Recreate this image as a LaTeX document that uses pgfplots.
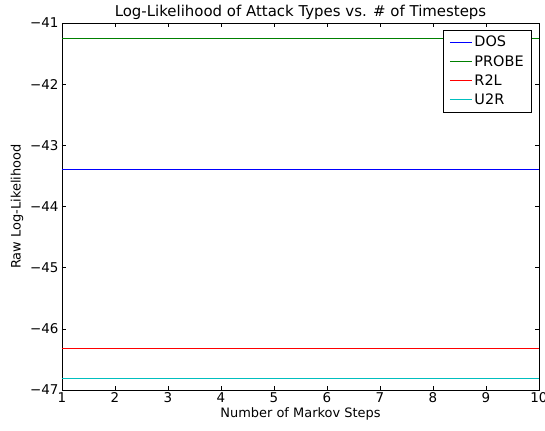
\documentclass[border=0pt]{standalone}
\usepackage{fontspec}
\setmainfont{DejaVu Sans}
\usepackage{pgfplots}
\pgfplotsset{compat=1.18}
\definecolor{dosblue}{RGB}{0,0,255}
\definecolor{probegreen}{RGB}{0,128,0}
\definecolor{rtwolred}{RGB}{255,0,0}
\definecolor{utworcyan}{RGB}{0,191,191}
\begin{document}
\begin{tikzpicture}
\path[use as bounding box] (-62bp,-41bp) rectangle (483bp,390bp);
\begin{axis}[
  scale only axis,
  width=477bp, height=367bp,
  xmin=1, xmax=10, ymin=-47, ymax=-41,
  xtick={1,...,10},
  ytick={-47,-46,-45,-44,-43,-42,-41},
  yticklabels={−47,−46,−45,−44,−43,−42,−41},
  tick align=inside,
  major tick length=4bp,
  axis line style={black, line width=0.9bp},
  every tick/.style={black, line width=0.6bp},
  tick label style={font=\fontsize{13.5}{16}\selectfont},
  xticklabel style={yshift=1bp},
  /pgf/number format/assume math mode=true,
  title={Log-Likelihood of Attack Types vs. \# of Timesteps},
  title style={font=\fontsize{15}{17}\selectfont, yshift=-6bp},
  xlabel={Number of Markov Steps},
  ylabel={Raw Log-Likelihood},
  label style={font=\fontsize{13}{15}\selectfont},
  xlabel style={yshift=2bp},
  legend style={at={(axis description cs:0.985,0.981)}, anchor=north east,
    font=\fontsize{14.5}{17}\selectfont,
    inner xsep=6bp, inner ysep=4bp, row sep=3bp},
  legend cell align=left,
  legend image code/.code={\draw[#1] (0bp,0bp) -- (22bp,0bp);},
  every axis plot/.append style={line width=1.2bp, mark=none},
]
\addplot[color=dosblue] coordinates {(1,-43.40) (2,-43.40) (3,-43.40) (4,-43.40) (5,-43.40) (6,-43.40) (7,-43.40) (8,-43.40) (9,-43.40) (10,-43.40)};
\addlegendentry{DOS}
\addplot[color=probegreen] coordinates {(1,-41.25) (2,-41.25) (3,-41.25) (4,-41.25) (5,-41.25) (6,-41.25) (7,-41.25) (8,-41.25) (9,-41.25) (10,-41.25)};
\addlegendentry{PROBE}
\addplot[color=rtwolred] coordinates {(1,-46.32) (2,-46.32) (3,-46.32) (4,-46.32) (5,-46.32) (6,-46.32) (7,-46.32) (8,-46.32) (9,-46.32) (10,-46.32)};
\addlegendentry{R2L}
\addplot[color=utworcyan] coordinates {(1,-46.81) (2,-46.81) (3,-46.81) (4,-46.81) (5,-46.81) (6,-46.81) (7,-46.81) (8,-46.81) (9,-46.81) (10,-46.81)};
\addlegendentry{U2R}
\end{axis}
\end{tikzpicture}
\end{document}
